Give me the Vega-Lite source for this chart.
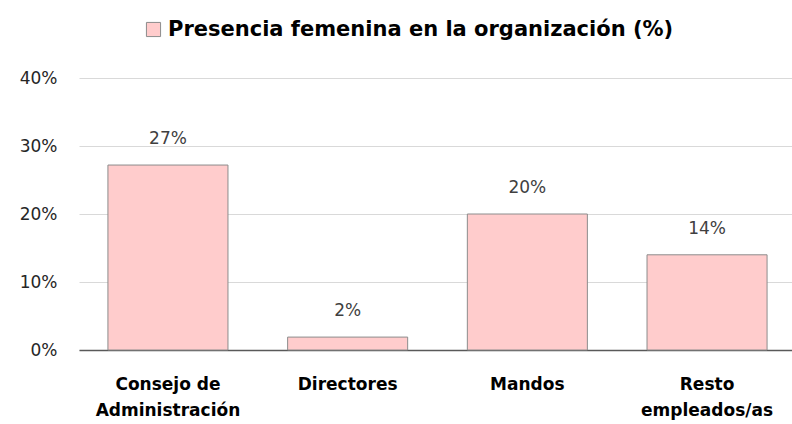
{
  "$schema": "https://vega.github.io/schema/vega-lite/v6.json",
  "autosize": {"type": "none"},
  "width": 717,
  "height": 272,
  "padding": {"left": 79, "top": 78, "right": 0, "bottom": 74},
  "background": "white",
  "config": {"view": {"stroke": null}, "font": "DejaVu Sans"},
  "data": {
    "values": [
      {"categoria": "Consejo de Administración", "valor": 0.272, "serie": "Presencia femenina en la organización (%)"},
      {"categoria": "Directores", "valor": 0.019, "serie": "Presencia femenina en la organización (%)"},
      {"categoria": "Mandos", "valor": 0.2, "serie": "Presencia femenina en la organización (%)"},
      {"categoria": "Resto empleados/as", "valor": 0.14, "serie": "Presencia femenina en la organización (%)"}
    ]
  },
  "encoding": {
    "x": {
      "field": "categoria", "type": "nominal", "sort": null,
      "scale": {"paddingInner": 0.332, "paddingOuter": 0.161},
      "axis": {
        "title": null, "labelAngle": 0, "domain": true, "domainColor": "#595959", "domainWidth": 1.5,
        "ticks": false, "labelPadding": 34, "labelFontSize": 17, "labelFontWeight": "bold",
        "labelColor": "#000000", "labelLineHeight": 26, "labelBaseline": "middle",
        "labelExpr": "datum.value == 'Consejo de Administración' ? ['Consejo de', 'Administración'] : datum.value == 'Resto empleados/as' ? ['Resto', 'empleados/as'] : datum.value"
      }
    },
    "y": {
      "field": "valor", "type": "quantitative",
      "scale": {"domain": [0, 0.4], "nice": false},
      "axis": {
        "title": null, "format": ".0%", "values": [0, 0.1, 0.2, 0.3, 0.4],
        "domain": false, "ticks": false, "labelPadding": 22, "labelFontSize": 17,
        "labelColor": "#262626", "gridColor": "#D9D9D9", "gridWidth": 1.2
      }
    }
  },
  "layer": [
    {
      "mark": {"type": "bar", "stroke": "#8C8C8C", "strokeWidth": 1},
      "encoding": {
        "fill": {
          "field": "serie", "type": "nominal",
          "scale": {"range": ["#FFCCCC"]},
          "legend": {
            "title": null, "orient": "none", "legendX": 64, "legendY": -59,
            "symbolType": "square", "symbolSize": 200,
            "symbolStrokeColor": "#8C8C8C", "symbolStrokeWidth": 1,
            "labelFontSize": 21, "labelFontWeight": "bold", "labelColor": "#000000",
            "labelLimit": 700, "labelOffset": 4
          }
        }
      }
    },
    {
      "mark": {"type": "text", "dy": -26, "fontSize": 17, "color": "#404040"},
      "encoding": {"text": {"field": "valor", "type": "quantitative", "format": ".0%"}}
    }
  ]
}
